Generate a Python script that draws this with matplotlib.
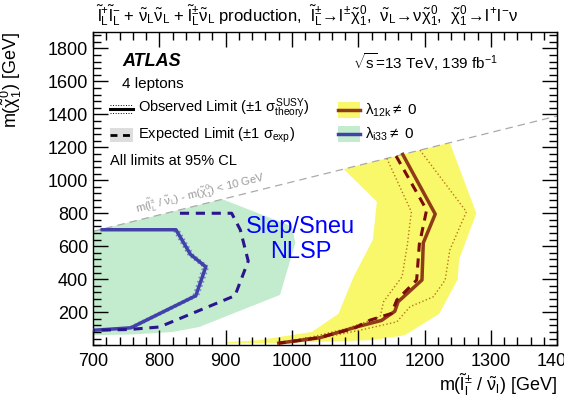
import matplotlib
matplotlib.use("Agg")
import matplotlib.pyplot as plt
import matplotlib.patches as mpatches
from matplotlib.lines import Line2D
from matplotlib.ticker import MultipleLocator
import numpy as np

plt.rcParams['font.family'] = ['Liberation Sans', 'DejaVu Sans']
plt.rcParams['mathtext.fontset'] = 'custom'
plt.rcParams['mathtext.rm'] = 'Liberation Sans'
plt.rcParams['mathtext.it'] = 'Liberation Sans'
plt.rcParams['mathtext.bf'] = 'Liberation Sans:bold'

# lambda_i33 limits (m_slep, m_chi)
i33_obs_x = [714, 825, 847, 870, 855, 757, 700]
i33_obs_y = [700, 700, 550, 475, 300, 105, 90]
i33_exp_x = [831, 909, 922, 934, 914, 800, 755, 700]
i33_exp_y = [800, 800, 700, 510, 300, 110, 95, 90]
i33_band_up_x = [700, 895, 1000, 1005, 982, 860, 820, 760, 700]
i33_band_up_y = [690, 885, 720, 620, 305, 110, 80, 65, 60]
i33_band_dn_x = [700, 823, 841, 831, 711, 700]
i33_band_dn_y = [682, 685, 445, 243, 91, 88]

# lambda_12k limits
l12k_obs_x = [1167, 1216, 1198, 1196, 1160, 1155, 1135, 1098, 1042, 980]
l12k_obs_y = [1157, 795, 620, 395, 263, 205, 150, 111, 45, 12]
l12k_exp_x = [1157, 1203, 1192, 1188, 1158, 1150, 1118, 1093, 1040, 980]
l12k_exp_y = [1147, 820, 610, 395, 273, 192, 152, 101, 45, 12]
l12k_thup_x = [1193, 1263, 1238, 1231, 1213, 1178, 1158, 1103, 1040, 985]
l12k_thup_y = [1183, 809, 577, 395, 293, 233, 141, 91, 40, 10]
l12k_thdn_x = [1143, 1180, 1174, 1166, 1138, 1133, 1083, 1030, 980]
l12k_thdn_y = [1133, 809, 610, 415, 263, 172, 101, 50, 14]
l12k_band_up_x = [1078, 1238, 1278, 1252, 1250, 1222, 1170, 1120, 1000, 900]
l12k_band_up_y = [1068, 1228, 800, 520, 400, 190, 60, 30, 15, 10]
l12k_band_dn_x = [900, 950, 1030, 1070, 1093, 1122, 1128, 1078]
l12k_band_dn_y = [18, 30, 80, 190, 415, 640, 870, 1068]

x_ticks = [700, 800, 900, 1000, 1100, 1200, 1300, 1400]
y_ticks = [200, 400, 600, 800, 1000, 1200, 1400, 1600, 1800]

yellow = '#f8f86a'
green = '#c3ebcd'
brown = '#8f3b17'
darkred = '#7a0c0c'
blue = '#4141a8'
dblue = '#2b158f'

fig = plt.figure(figsize=(5.64, 3.99), dpi=100)
ax = fig.add_axes([0.165, 0.135, 0.823, 0.785])

# bands
band = np.column_stack([i33_band_up_x + i33_band_dn_x, i33_band_up_y + i33_band_dn_y])
ax.add_patch(mpatches.Polygon(band, closed=True, facecolor=green, edgecolor='none', zorder=1))
band = np.column_stack([l12k_band_up_x + l12k_band_dn_x, l12k_band_up_y + l12k_band_dn_y])
ax.add_patch(mpatches.Polygon(band, closed=True, facecolor=yellow, edgecolor='none', zorder=1))

# lambda_i33 lines
for dx in (-4, 4):
    ax.plot(np.array(i33_obs_x) + dx, i33_obs_y, color='#6f86d6', lw=1.2, ls=':', zorder=3)
ax.plot(i33_obs_x, i33_obs_y, color=blue, lw=2.5, zorder=4)
ax.plot(i33_exp_x, i33_exp_y, color=dblue, lw=2.2, ls=(0, (3, 2.2)), zorder=4)

# lambda_12k lines
ax.plot(l12k_thup_x, l12k_thup_y, color='#b8741e', lw=1.0, ls=':', zorder=3)
ax.plot(l12k_thdn_x, l12k_thdn_y, color='#b8741e', lw=1.0, ls=':', zorder=3)
ax.plot(l12k_obs_x, l12k_obs_y, color=brown, lw=2.5, zorder=4)
ax.plot(l12k_exp_x, l12k_exp_y, color=darkred, lw=2.2, ls=(0, (3, 2.2)), zorder=4)

# kinematic diagonal
diag_x = np.array([700, 1400])
ax.plot(diag_x, diag_x - 10, color='#aaaaaa', lw=0.9, ls=(0, (6, 4)), zorder=2)
ax.text(768, 770, r'$\mathrm{m}(\tilde{l}^{\pm}_{L}\ /\ \tilde{\nu}_{L})$ - $\mathrm{m}(\tilde{\chi}^{0}_{1})$ < 10 GeV',
        rotation=14, color='#999999', fontsize=8, ha='left', va='bottom',
        rotation_mode='anchor', zorder=2)

ax.text(1013, 640, 'Slep/Sneu\nNLSP', color='blue', fontsize=17, ha='center',
        va='center', linespacing=1.15, zorder=5)

ax.set_xlim(700, 1400)
ax.set_ylim(0, 1900)
ax.set_xticks(x_ticks)
ax.set_yticks(y_ticks)
ax.xaxis.set_minor_locator(MultipleLocator(20))
ax.yaxis.set_minor_locator(MultipleLocator(40))
ax.tick_params(which='both', direction='in', top=True, right=True, labelsize=13)
ax.tick_params(which='major', length=11, width=1)
ax.tick_params(which='minor', length=6, width=1)
ax.tick_params(axis='x', pad=6)
for s in ax.spines.values():
    s.set_linewidth(1.0)

ax.set_xlabel(r'$\mathrm{m}(\tilde{l}^{\pm}_{l}\ /\ \tilde{\nu}_{l})$ [GeV]', fontsize=13, loc='right')
ax.set_ylabel(r'$\mathrm{m}(\tilde{\chi}^{0}_{1})$ [GeV]', fontsize=13, loc='top')
ax.xaxis.set_label_coords(1.0, -0.085)
ax.yaxis.set_label_coords(-0.148, 1.0)

fig.text(0.545, 0.962,
         r'$\tilde{l}^{+}_{L}\tilde{l}^{-}_{L}$ + $\tilde{\nu}_{L}\tilde{\nu}_{L}$ + $\tilde{l}^{\pm}_{L}\tilde{\nu}_{L}$ production,  '
         r'$\tilde{l}^{\pm}_{L}\!\rightarrow\! l^{\pm}\tilde{\chi}^{0}_{1}$,  '
         r'$\tilde{\nu}_{L}\!\rightarrow\!\nu\tilde{\chi}^{0}_{1}$,  '
         r'$\tilde{\chi}^{0}_{1}\!\rightarrow\! l^{+}l^{-}\nu$',
         fontsize=12, ha='center', va='center')

# legend block
def fx(px):
    return px / 564.0

def fy(py):
    return 1 - py / 399.0

fig.text(fx(122), fy(62), 'ATLAS', fontsize=13, fontweight='bold', fontstyle='italic', va='center')
fig.text(fx(122), fy(84), '4 leptons', fontsize=11, va='center')
fig.text(fx(353), fy(62), r'$\sqrt{s}$=13 TeV, 139 fb$^{-1}$', fontsize=11, va='center')

fig.add_artist(Line2D([fx(110), fx(133)], [fy(109), fy(109)], color='black', lw=2.2))
for off in (-4, 4):
    fig.add_artist(Line2D([fx(110), fx(133)], [fy(109 + off), fy(109 + off)], color='black', lw=0.7, ls=':'))
fig.text(fx(138), fy(109), r'Observed Limit ($\pm$1 $\sigma^{\mathrm{SUSY}}_{\mathrm{theory}}$)', fontsize=10.5, va='center')

fig.add_artist(mpatches.Rectangle((fx(110), fy(142)), fx(23), 14 / 399.0, facecolor='#dddddd', edgecolor='none'))
fig.add_artist(Line2D([fx(110), fx(133)], [fy(135), fy(135)], color='black', lw=2.0, ls=(0, (2.5, 2))))
fig.text(fx(138), fy(135), r'Expected Limit ($\pm$1 $\sigma_{\mathrm{exp}}$)', fontsize=10.5, va='center')
fig.text(fx(110), fy(161), 'All limits at 95% CL', fontsize=10.5, va='center')

fig.add_artist(mpatches.Rectangle((fx(338), fy(118)), fx(22), 16 / 399.0, facecolor=yellow, edgecolor='none'))
fig.add_artist(Line2D([fx(338), fx(360)], [fy(110), fy(110)], color=brown, lw=2.5))
fig.text(fx(365), fy(110), r'$\lambda_{12k}\neq$ 0', fontsize=11, va='center')
fig.add_artist(mpatches.Rectangle((fx(338), fy(142)), fx(22), 16 / 399.0, facecolor=green, edgecolor='none'))
fig.add_artist(Line2D([fx(338), fx(360)], [fy(134), fy(134)], color=blue, lw=2.5))
fig.text(fx(365), fy(134), r'$\lambda_{i33}\neq$ 0', fontsize=11, va='center')

fig.savefig('out.png', dpi=100)
